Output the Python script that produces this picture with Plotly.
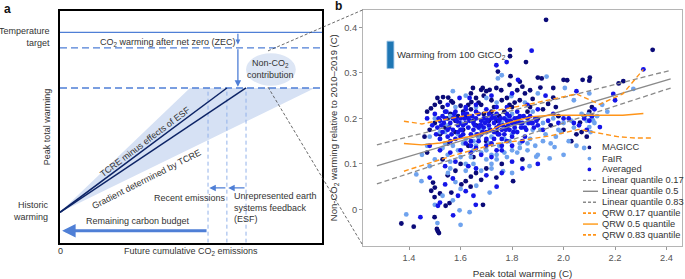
import plotly.graph_objects as go

W, H = 685, 279
FONT = "Liberation Sans"
TXT = "#333333"
BLUE_LINE = "#4f7fd6"
BLUE_LIGHT = "#93b3ea"
NAVY_LINE = "#0d2466"

# ---------------- Panel a: schematic quantities (arbitrary units 0-100) ----------
hist_warming = 13.1
target_level = 90.7
zec_level = 84.0
peak_co2_level = 66.7
budget_arrow_level = 5.1
em_budget = 56.5
em_recent = 63.7
em_esf = 71.0
cone_upper_em = 49.6
cone_lower_em = 97.3
feedback_arrow_level = 23.6
zec_arrow_em = 67.9
nonco2_x, nonco2_y, nonco2_rx, nonco2_ry = 80.5, 74.7, 9.5, 7.0

# ---------------- Panel b: data ----------------
magicc_x = [1.932, 2.346, 1.792, 1.792, 1.854, 1.794, 1.745, 1.90, 1.915, 2.00, 2.014, 2.074, 2.102, 2.10, 2.214, 2.232,
            1.96, 1.91, 1.83, 1.79, 1.739, 1.758, 1.713, 1.648, 1.68, 1.686, 1.532, 1.552, 1.564, 1.642, 1.60, 1.50,
            1.47, 1.485, 1.52, 1.82, 1.85, 1.87, 1.88, 1.96, 1.94,
            1.56, 1.58, 1.62, 1.64, 1.66, 1.69, 1.71, 1.73, 1.75, 1.77, 1.80, 1.54, 1.50, 1.52, 1.58, 1.61, 1.67,
            1.70, 1.74, 1.78, 1.82, 1.86, 1.90, 1.95, 2.00, 2.05, 2.064, 2.08, 2.10, 2.07, 2.03, 1.98, 1.63, 1.55,
            1.48, 1.46, 1.65, 1.72, 1.68,
            1.47, 1.53, 1.60, 1.65, 1.70, 1.76, 1.84, 1.62, 1.603, 1.639, 1.64, 1.68, 1.493, 1.50, 1.486, 1.499,
            1.52, 1.564, 1.557, 1.542, 1.687, 1.739, 1.804, 1.37, 1.418, 1.508, 1.516, 1.512, 1.499, 1.58, 1.66, 1.55,
            1.53, 1.57, 1.59, 1.63, 1.66, 1.69, 1.72, 1.76, 1.79, 1.83, 1.87, 1.55, 1.61, 1.67, 1.74, 1.81, 1.51,
            1.64, 1.70, 1.78, 1.84, 1.92, 1.97, 2.11, 2.09]
magicc_y = [0.417, 0.351, 0.351, 0.337, 0.324, 0.293, 0.303, 0.290, 0.288, 0.285, 0.284, 0.285, 0.290, 0.283, 0.277, 0.282,
            0.267, 0.268, 0.281, 0.274, 0.267, 0.262, 0.263, 0.267, 0.263, 0.267, 0.247, 0.246, 0.238, 0.236, 0.228, 0.230,
            0.215, 0.222, 0.236, 0.262, 0.255, 0.262, 0.243, 0.246, 0.232,
            0.210, 0.195, 0.205, 0.220, 0.185, 0.210, 0.195, 0.225, 0.205, 0.215, 0.225, 0.180, 0.190, 0.165, 0.170, 0.175, 0.160,
            0.150, 0.170, 0.180, 0.200, 0.215, 0.200, 0.185, 0.175, 0.165, 0.191, 0.205, 0.215, 0.170, 0.150, 0.205, 0.140, 0.145,
            0.175, 0.160, 0.195, 0.240, 0.230,
            0.125, 0.110, 0.100, 0.115, 0.090, 0.100, 0.110, 0.062, 0.055, 0.050, 0.072, 0.065, 0.059, 0.048, 0.041, 0.027,
            0.035, 0.037, 0.014, 0.008, 0.010, 0.070, 0.062, -0.031, -0.038, -0.043, -0.052, -0.048, -0.017, 0.085, 0.080, 0.075,
            0.225, 0.235, 0.205, 0.230, 0.245, 0.250, 0.215, 0.240, 0.230, 0.240, 0.225, 0.200, 0.215, 0.235, 0.195, 0.235, 0.245,
            0.255, 0.260, 0.245, 0.270, 0.220, 0.225, 0.225, 0.160]

fair_x = [1.745, 1.76, 1.934, 2.005, 2.271, 1.797, 1.70, 2.04, 2.10, 1.62, 1.57, 1.90, 1.85, 2.15, 2.17,
          1.55, 1.60, 1.64, 1.68, 1.72, 1.76, 1.80, 1.84, 1.88, 1.92, 1.96, 2.00, 2.04, 2.096, 2.11, 2.10, 2.09, 2.12,
          1.52, 1.57, 1.62, 1.66, 1.70, 1.75, 1.79, 1.83, 1.87, 1.93, 1.97, 2.02, 1.50, 1.58, 1.66, 1.74, 1.80,
          1.45, 1.50, 1.55, 1.60, 1.65, 1.70, 1.74, 1.78, 1.82, 1.86, 1.90, 1.946, 1.965, 1.894, 1.868, 1.765, 1.80,
          1.72, 1.68, 1.62, 1.56, 1.48, 1.428, 1.448, 1.551, 1.661, 1.713, 1.60, 1.58, 1.53, 1.50, 1.596, 1.635,
          1.600, 1.389, 1.51, 1.57, 2.00, 2.05, 2.08,
          1.54, 1.59, 1.63, 1.67, 1.71, 1.77, 1.81, 1.86, 1.91, 1.99, 2.03, 2.07, 1.56, 1.61, 1.65, 1.69, 1.73, 1.78,
          1.83, 1.88, 1.47, 1.52, 1.64, 1.72, 1.95, 2.13, 2.115, 2.105,
          1.53, 1.59, 1.65, 1.71, 1.77, 1.83, 1.89, 1.56, 1.62, 1.68, 1.74, 1.80, 1.86, 1.92, 1.98, 1.48, 1.54, 1.60,
          1.66, 1.72]
fair_y = [0.288, 0.295, 0.292, 0.267, 0.265, 0.249, 0.245, 0.240, 0.255, 0.250, 0.260, 0.255, 0.235, 0.230, 0.215,
          0.185, 0.190, 0.205, 0.175, 0.160, 0.190, 0.165, 0.180, 0.175, 0.190, 0.200, 0.190, 0.180, 0.209, 0.200, 0.181, 0.195, 0.190,
          0.155, 0.140, 0.155, 0.140, 0.130, 0.140, 0.150, 0.145, 0.155, 0.165, 0.160, 0.150, 0.200, 0.225, 0.225, 0.235, 0.210,
          0.120, 0.110, 0.120, 0.115, 0.100, 0.110, 0.120, 0.115, 0.125, 0.130, 0.120, 0.112, 0.137, 0.116, 0.095, 0.084, 0.080,
          0.090, 0.085, 0.085, 0.090, 0.095, 0.077, 0.062, 0.080, 0.052, 0.037, 0.045, 0.060, 0.030, 0.010, -0.002, -0.006,
          -0.034, -0.011, -0.030, 0.020, 0.120, 0.140, 0.135,
          0.170, 0.165, 0.180, 0.160, 0.180, 0.155, 0.175, 0.190, 0.175, 0.170, 0.195, 0.210, 0.205, 0.145, 0.130, 0.195, 0.205, 0.200,
          0.200, 0.215, 0.140, 0.170, 0.115, 0.100, 0.145, 0.205, 0.195, 0.170,
          0.135, 0.130, 0.150, 0.145, 0.125, 0.135, 0.140, 0.105, 0.100, 0.125, 0.110, 0.130, 0.145, 0.150, 0.175, 0.160, 0.145, 0.175,
          0.165, 0.120]

avg_x = [1.876, 1.779, 1.739, 1.823, 1.596, 1.635, 2.193, 2.20, 2.31, 1.80, 1.72, 2.05, 1.93,
         1.50, 1.52, 1.54, 1.56, 1.57, 1.59, 1.60, 1.61, 1.62, 1.63, 1.64, 1.65, 1.66, 1.67, 1.68, 1.69, 1.70, 1.71,
         1.72, 1.73, 1.74, 1.75, 1.76, 1.77, 1.78, 1.79, 1.80, 1.81, 1.82, 1.84, 1.86, 1.88, 1.90, 1.92, 1.94, 1.98,
         2.02, 2.06, 2.09, 2.11, 2.12, 2.141, 1.53, 1.55, 1.58, 1.61, 1.64, 1.67, 1.70, 1.73, 1.76, 1.80, 1.85, 1.58,
         1.62, 1.66, 1.70, 1.74, 1.78, 1.82, 1.86, 1.90, 1.55, 1.49, 1.47,
         1.48, 1.52, 1.56, 1.60, 1.64, 1.68, 1.72, 1.76, 1.80, 1.58, 1.63, 1.66, 1.54, 1.70, 1.74, 1.444, 1.571, 1.659,
         1.512, 1.59, 1.54, 1.62, 1.57, 1.65, 1.76, 1.84, 1.90, 1.52, 1.48,
         1.51, 1.53, 1.55, 1.57, 1.59, 1.61, 1.63, 1.65, 1.67, 1.69, 1.71, 1.73, 1.75, 1.77, 1.79, 1.81, 1.83, 1.85,
         1.87, 1.89, 1.52, 1.56, 1.60, 1.64, 1.68, 1.72, 1.76, 1.80, 1.84, 1.54, 1.58, 1.62, 1.66, 1.70, 1.74, 1.78,
         1.60, 1.68, 1.75, 1.83, 1.96, 2.00, 2.04, 2.08, 2.10,
         1.505, 1.525, 1.545, 1.565, 1.585, 1.605, 1.625, 1.645, 1.665, 1.685, 1.705, 1.725, 1.745, 1.765, 1.785,
         1.805, 1.825, 1.845, 1.865, 1.885, 1.515, 1.555, 1.595, 1.635, 1.675, 1.715, 1.755, 1.795, 1.835, 1.875,
         1.535, 1.575, 1.615, 1.655, 1.695, 1.735, 1.775, 1.815, 1.855, 1.895, 1.62, 1.70, 1.78, 1.66, 1.74]
avg_y = [0.349, 0.324, 0.317, 0.285, 0.245, 0.245, 0.254, 0.240, 0.308, 0.255, 0.250, 0.260, 0.250,
         0.210, 0.195, 0.200, 0.190, 0.175, 0.185, 0.200, 0.210, 0.190, 0.180, 0.165, 0.175, 0.200, 0.210, 0.195, 0.180, 0.170, 0.185,
         0.200, 0.190, 0.180, 0.195, 0.175, 0.165, 0.195, 0.205, 0.190, 0.180, 0.170, 0.190, 0.200, 0.190, 0.185, 0.175, 0.195, 0.190,
         0.200, 0.185, 0.175, 0.205, 0.220, 0.181, 0.170, 0.160, 0.155, 0.165, 0.150, 0.150, 0.140, 0.155, 0.155, 0.140, 0.160, 0.215,
         0.225, 0.215, 0.220, 0.210, 0.225, 0.215, 0.230, 0.220, 0.230, 0.185, 0.200,
         0.140, 0.130, 0.125, 0.130, 0.125, 0.120, 0.115, 0.130, 0.105, 0.105, 0.095, 0.090, 0.095, 0.075, 0.050, -0.017, -0.013, 0.010,
         0.008, 0.030, 0.055, 0.040, 0.068, 0.030, 0.080, 0.090, 0.100, 0.015, 0.070,
         0.180, 0.205, 0.175, 0.200, 0.170, 0.185, 0.200, 0.190, 0.180, 0.200, 0.210, 0.170, 0.185, 0.200, 0.175, 0.200, 0.190, 0.180,
         0.205, 0.200, 0.155, 0.150, 0.160, 0.140, 0.165, 0.145, 0.140, 0.160, 0.150, 0.215, 0.200, 0.220, 0.230, 0.200, 0.225, 0.210,
         0.175, 0.185, 0.165, 0.205, 0.210, 0.200, 0.190, 0.200, 0.195,
         0.165, 0.185, 0.215, 0.165, 0.195, 0.175, 0.210, 0.205, 0.165, 0.170, 0.195, 0.205, 0.165, 0.185, 0.185,
         0.170, 0.200, 0.205, 0.190, 0.180, 0.200, 0.180, 0.190, 0.195, 0.185, 0.175, 0.200, 0.195, 0.180, 0.190,
         0.190, 0.210, 0.200, 0.185, 0.190, 0.200, 0.175, 0.190, 0.175, 0.195, 0.145, 0.155, 0.150, 0.135, 0.130]

lin_x = [1.275, 2.416]
lin_q17 = [0.056, 0.267]
lin_q50 = [0.096, 0.287]
lin_q83 = [0.142, 0.306]

qrw50_x = [1.38, 1.45, 1.52, 1.58, 1.65, 1.71, 1.76, 1.82, 1.88, 1.95, 2.01, 2.14, 2.23, 2.31]
qrw50_y = [0.145, 0.142, 0.146, 0.153, 0.162, 0.172, 0.186, 0.196, 0.204, 0.207, 0.207, 0.207, 0.207, 0.211]
qrw83_x = [1.38, 1.45, 1.52, 1.60, 1.68, 1.76, 1.84, 1.92, 2.05, 2.14, 2.23, 2.31]
qrw83_y = [0.194, 0.188, 0.196, 0.204, 0.212, 0.220, 0.228, 0.238, 0.254, 0.231, 0.254, 0.308]
qrw17_x = [1.38, 1.48, 1.58, 1.67, 1.74, 1.84, 1.95, 2.06, 2.14, 2.21, 2.28, 2.35]
qrw17_y = [0.084, 0.102, 0.120, 0.134, 0.145, 0.152, 0.162, 0.176, 0.168, 0.160, 0.157, 0.157]

bar_x0, bar_x1 = 1.314, 1.341
bar_y0, bar_height = 0.310, 0.060

x_ticks = [1.4, 1.6, 1.8, 2.0, 2.2, 2.4]
y_ticks = [0, 0.1, 0.2, 0.3, 0.4]

C_MAGICC = "#0a0a78"
C_FAIR = "#6fa3ee"
C_AVG = "#1515e8"
C_GREY = "#8a8a8a"
C_ORANGE = "#ff9418"
MS = 4.8


def px(x):
    return x / W


def py(y):
    return 1 - y / H


fig = go.Figure()

# ---- panel a traces ----
A = dict(xaxis="x", yaxis="y", hoverinfo="skip", showlegend=False)
fig.add_trace(go.Scatter(x=[0, cone_upper_em, cone_lower_em, 0], y=[hist_warming, peak_co2_level, peak_co2_level, hist_warming],
                         fill="toself", fillcolor="#d6e1f4", line=dict(width=0), mode="lines", **A))
for em in (em_budget, em_recent, em_esf):
    fig.add_trace(go.Scatter(x=[em, em], y=[0, peak_co2_level], mode="lines",
                             line=dict(color=BLUE_LIGHT, width=1, dash="4px,3px"), **A))
fig.add_trace(go.Scatter(x=[0, 100], y=[target_level, target_level], mode="lines",
                         line=dict(color=BLUE_LINE, width=1.3), **A))
for lv in (zec_level, peak_co2_level):
    fig.add_trace(go.Scatter(x=[0, 100], y=[lv, lv], mode="lines",
                             line=dict(color=BLUE_LINE, width=1.3, dash="7px,4px"), **A))
fig.add_trace(go.Scatter(x=[0, em_recent], y=[hist_warming, peak_co2_level], mode="lines",
                         line=dict(color=NAVY_LINE, width=1.5), **A))
fig.add_trace(go.Scatter(x=[0, em_esf], y=[hist_warming, peak_co2_level], mode="lines",
                         line=dict(color=NAVY_LINE, width=1.5), **A))

# ---- panel b traces ----
B = dict(xaxis="x2", yaxis="y2", hoverinfo="skip", showlegend=False)
fig.add_trace(go.Scatter(x=magicc_x, y=magicc_y, mode="markers", marker=dict(color=C_MAGICC, size=MS), **B))
fig.add_trace(go.Scatter(x=fair_x, y=fair_y, mode="markers", marker=dict(color=C_FAIR, size=MS), **B))
fig.add_trace(go.Scatter(x=avg_x, y=avg_y, mode="markers", marker=dict(color=C_AVG, size=MS), **B))
fig.add_trace(go.Scatter(x=lin_x, y=lin_q17, mode="lines", line=dict(color=C_GREY, width=1.3, dash="5px,3px"), **B))
fig.add_trace(go.Scatter(x=lin_x, y=lin_q50, mode="lines", line=dict(color=C_GREY, width=1.3), **B))
fig.add_trace(go.Scatter(x=lin_x, y=lin_q83, mode="lines", line=dict(color=C_GREY, width=1.3, dash="5px,3px"), **B))
fig.add_trace(go.Scatter(x=qrw17_x, y=qrw17_y, mode="lines", line=dict(color=C_ORANGE, width=1.4, dash="5px,3px"), **B))
fig.add_trace(go.Scatter(x=qrw50_x, y=qrw50_y, mode="lines", line=dict(color=C_ORANGE, width=1.4), **B))
fig.add_trace(go.Scatter(x=qrw83_x, y=qrw83_y, mode="lines", line=dict(color=C_ORANGE, width=1.4, dash="5px,3px"), **B))

shapes = []
# non-CO2 ellipse
shapes.append(dict(type="circle", xref="x", yref="y", x0=nonco2_x - nonco2_rx, x1=nonco2_x + nonco2_rx,
                   y0=nonco2_y - nonco2_ry, y1=nonco2_y + nonco2_ry, fillcolor="#dde6f5", line=dict(width=0), layer="below"))
# 100 GtCO2 bar
shapes.append(dict(type="rect", xref="x2", yref="y2", x0=bar_x0, x1=bar_x1, y0=bar_y0, y1=bar_y0 + bar_height,
                   fillcolor="#1f77b4", line=dict(color="#9cc3e6", width=0.8)))
# connectors
shapes.append(dict(type="line", xref="paper", yref="paper", x0=px(268), y0=py(52), x1=px(363), y1=py(10),
                   line=dict(color="#444", width=0.8, dash="3px,2px")))
shapes.append(dict(type="line", xref="paper", yref="paper", x0=px(268), y0=py(89), x1=px(363), y1=py(251),
                   line=dict(color="#444", width=0.8, dash="3px,2px")))

# custom legend
leg_rows = [150.7, 162.0, 173.2, 184.3, 195.5, 206.7, 217.8, 229.0, 240.0]
leg_items = [("MAGICC", "m", C_MAGICC, None), ("FaIR", "m", C_FAIR, None), ("Averaged", "m", C_AVG, None),
             ("Linear quantile 0.17", "l", C_GREY, "3px,2px"), ("Linear quantile 0.5", "l", C_GREY, "solid"),
             ("Linear quantile 0.83", "l", C_GREY, "3px,2px"), ("QRW 0.17 quantile", "l", C_ORANGE, "3px,2px"),
             ("QRW 0.5 quantile", "l", "#ffb04a", "solid"), ("QRW 0.83 quantile", "l", C_ORANGE, "3px,2px")]
annotations = []
for yy, (lab, kind, col, dash) in zip(leg_rows, leg_items):
    if kind == "m":
        shapes.append(dict(type="circle", xref="paper", yref="paper", x0=px(587.5), x1=px(591.3),
                           y0=py(yy + 1.9), y1=py(yy - 1.9), fillcolor=col, line=dict(width=0)))
    else:
        shapes.append(dict(type="line", xref="paper", yref="paper", x0=px(583), x1=px(598), y0=py(yy), y1=py(yy),
                           line=dict(color=col, width=1.4 if col == C_GREY else 1.8, dash=dash)))
    annotations.append(dict(text=lab, x=px(600), y=py(yy), xref="paper", yref="paper", xanchor="left",
                            yanchor="middle", showarrow=False, font=dict(size=9.3, color=TXT, family=FONT)))


def ann_a(text, x, y, **kw):
    d = dict(text=text, x=x, y=y, xref="x", yref="y", showarrow=False, xanchor="center", yanchor="middle",
             font=dict(size=9, color=TXT, family=FONT))
    d.update(kw)
    annotations.append(d)


def ann_p(text, xpx, ypx, **kw):
    d = dict(text=text, x=px(xpx), y=py(ypx), xref="paper", yref="paper", showarrow=False,
             xanchor="center", yanchor="middle", font=dict(size=9, color=TXT, family=FONT))
    d.update(kw)
    annotations.append(d)


ann_p("<b>a</b>", 2, 9, xanchor="left", font=dict(size=12, color="#111", family=FONT))
ann_p("<b>b</b>", 333, 6, xanchor="left", font=dict(size=12, color="#111", family=FONT))
ann_p("Temperature<br>target", 52, 38, xanchor="right", align="right")
ann_p("Historic<br>warming", 51, 216, xanchor="right", align="right")
ann_p("Peak total warming", 47, 130, textangle=-90)
ann_p("0", 60, 257)
ann_p("Future cumulative CO<sub>2</sub> emissions", 191, 257)
ann_a("CO<sub>2</sub> warming after net zero (ZEC)", 41.2, 86.5)
ann_a("Non-CO<sub>2</sub><br>contribution", nonco2_x, nonco2_y)
ann_a("Remaining carbon budget", 29.8, 9.3)
ann_a("Recent emissions", 49.6, 19.4)
ann_a("Unrepresented earth<br>systems feedback<br>(ESF)", 65.6, 15.0, xanchor="left", align="left")
ann_a("TCRE minus effects of ESF", 32.4, 43.5, textangle=-37)
ann_a("Gradient determined by TCRE", 33.2, 27.4, textangle=-27)
annotations.append(dict(text="Warming from 100 GtCO<sub>2</sub>", x=1.347, y=bar_y0 + bar_height / 2, xref="x2", yref="y2",
                        xanchor="left", yanchor="middle", showarrow=False, font=dict(size=9.5, color=TXT, family=FONT)))

# arrows panel a
def arrow(x0, y0, x1, y1, width=1.3, head=2, size=1.0):
    annotations.append(dict(x=x1, y=y1, ax=x0, ay=y0, xref="x", yref="y", axref="x", ayref="y", text="",
                            showarrow=True, arrowhead=head, arrowsize=size, arrowwidth=width, arrowcolor=BLUE_LINE))


arrow(em_budget, budget_arrow_level, 0.8, budget_arrow_level, width=3, head=2, size=0.9)
arrow(em_esf, feedback_arrow_level, em_recent + 0.5, feedback_arrow_level, width=1.3, head=2, size=1.0)
arrow(em_recent, feedback_arrow_level, em_budget + 0.5, feedback_arrow_level, width=1.3, head=2, size=1.0)
arrow(zec_arrow_em, target_level, zec_arrow_em, zec_level + 1.5, width=1.2, head=2, size=0.8)
arrow(zec_arrow_em, zec_level, zec_arrow_em, peak_co2_level + 0.5, width=1.3, head=2, size=1.0)

fig.update_layout(
    width=W, height=H, margin=dict(l=0, r=0, t=0, b=0), paper_bgcolor="white", plot_bgcolor="white",
    font=dict(family=FONT, size=9.5, color=TXT),
    shapes=shapes, annotations=annotations, showlegend=False,
    xaxis=dict(domain=[px(60), px(322)], range=[0, 100], anchor="y", showgrid=False, zeroline=False,
               showticklabels=False, ticks="", showline=True, mirror=True, linecolor="black", linewidth=1.5),
    yaxis=dict(domain=[py(248), py(11)], range=[0, 100], anchor="x", showgrid=False, zeroline=False,
               showticklabels=False, ticks="", showline=True, mirror=True, linecolor="black", linewidth=1.5),
    xaxis2=dict(domain=[px(363), px(682)], range=[1.221, 2.46], anchor="y2", showgrid=False, zeroline=False,
                tickvals=x_ticks, ticktext=[f"{v:.1f}" for v in x_ticks], ticks="outside", ticklen=3,
                tickcolor="#999", tickfont=dict(size=9.3, color="#555"), showline=True, mirror=True,
                linecolor="#b5b5b5", linewidth=1,
                title=dict(text="Peak total warming (C)", font=dict(size=9.8, color=TXT), standoff=9)),
    yaxis2=dict(domain=[py(251), py(10)], range=[-0.0796, 0.439], anchor="x2", showgrid=False, zeroline=False,
                tickvals=y_ticks, ticktext=["0", "0.1", "0.2", "0.3", "0.4"], ticks="outside", ticklen=3,
                tickcolor="#999", tickfont=dict(size=9.3, color="#555"), showline=True, mirror=True,
                linecolor="#b5b5b5", linewidth=1,
                title=dict(text="Non-CO<sub>2</sub> warming relative to 2010–2019 (C)", font=dict(size=9.5, color=TXT),
                           standoff=4)),
)

fig.write_html("out.html", config={"displayModeBar": False},
               post_script="document.body.style.margin='0';document.body.style.padding='0';")
